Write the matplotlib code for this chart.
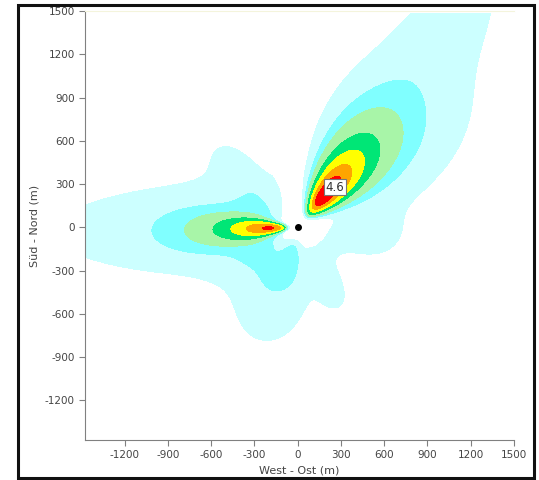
import numpy
import matplotlib
matplotlib.use('Agg')
from matplotlib import pyplot as plt
from matplotlib.patches import Rectangle

matplotlib.rcParams['font.family'] = 'DejaVu Sans'
matplotlib.rcParams['axes.unicode_minus'] = False

# Konzentrationsstufen und Farben
levels = [0.05, 0.15, 0.3, 0.7, 1.3, 2.2, 3.3, 100]
colors = ['#ccffff', '#80ffff', '#a8f5a8', '#00e676', '#ffff00', '#ffa500', '#ff0000']

# Fahnen: Richtung (Grad), Abstand Maximum (m), Maximum, log-Breite innen/aussen,
# Winkelbreite (Grad), Verengung hinter dem Maximum (0 = Keil, 1 = konstante Breite)
#             NE    NE-h   NE-f   W      W-f    W-n    S      SW     SO-n   SO     O      NW
lobe_angle = [50,   45,    54,    181.5, 181,   185,   -103,  -120,  -40,   -62,   -5,    135]
lobe_dist = [290,   550,   1800,  195,   400,   280,   200,   500,   250,   420,   480,   600]
lobe_peak = [4.6,   0.175, 0.045, 3.33,  0.138, 0.15,  0.18,  0.04,  0.06,  0.08,  0.08,  0.06]
lobe_s_in = [0.44,  0.7,   0.3,   0.55,  0.6,   0.5,   0.6,   0.4,   0.45,  0.5,   0.5,   0.3]
lobe_s_out = [0.51, 0.6,   0.3,   0.58,  1.0,   0.4,   0.8,   0.4,   0.4,   0.35,  0.35,  0.3]
lobe_spread = [10,  20,    7,     7,     37,    36,    17,    14,    25,    9,     14,    9]
lobe_narrow = [0,   0,     0,     0,     1,     0,     0,     0,     0,     0,     0,     0]

hole_radius = 90
peak_label = '4.6'

grid_x = [-1475, 1485]
grid_y = [-1475, 1485]

xticks = [-1200, -900, -600, -300, 0, 300, 600, 900, 1200, 1500]
yticks = [-1200, -900, -600, -300, 0, 300, 600, 900, 1200, 1500]

x = numpy.linspace(grid_x[0], grid_x[1], 700)
y = numpy.linspace(grid_y[0], grid_y[1], 700)
X, Y = numpy.meshgrid(x, y)
R = numpy.hypot(X, Y) + 1e-6
PHI = numpy.degrees(numpy.arctan2(Y, X))

C = numpy.zeros_like(X)
for ang, rp, pk, si, so, sp, nw in zip(lobe_angle, lobe_dist, lobe_peak, lobe_s_in,
                                       lobe_s_out, lobe_spread, lobe_narrow):
    d = (PHI - ang + 180) % 360 - 180
    s = numpy.where(R < rp, si, so)
    radial = numpy.exp(-numpy.log(R / rp) ** 2 / (2 * s ** 2))
    width = sp * (rp / numpy.maximum(R, rp)) ** nw
    angular = numpy.exp(-0.5 * (d / width) ** 2)
    C += pk * radial * angular
C *= 1 - numpy.exp(-(R / hole_radius) ** 4)

fig = plt.figure(figsize=(5.39, 4.80), dpi=100)
ax = fig.add_axes([85 / 539, 1 - 440 / 480, 429 / 539, 429 / 480])

ax.contourf(X, Y, C, levels=levels, colors=colors)
ax.plot(0, 0, 'o', color='black', markersize=4)

i = numpy.unravel_index(numpy.argmax(C), C.shape)
ax.annotate(peak_label, xy=(X[i], Y[i]), xytext=(10, 8), textcoords='offset pixels',
            ha='center', va='center', fontsize=8.5, color='#333333',
            bbox=dict(boxstyle='square,pad=0.15', fc='white', ec='#777777', lw=0.8),
            arrowprops=dict(arrowstyle='-', color='#777777', lw=0.8, shrinkA=0, shrinkB=0))

ax.set_xlim(-1475, 1500)
ax.set_ylim(-1475, 1500)
ax.set_xticks(xticks)
ax.set_yticks(yticks)
ax.tick_params(colors='#808080', labelcolor='#444444', labelsize=7.5, length=4, width=0.8)
for side in ['left', 'bottom']:
    ax.spines[side].set_color('#808080')
ax.spines['right'].set_visible(False)
ax.spines['top'].set_color('#f4f4dc')
ax.set_xlabel('West - Ost (m)', fontsize=8, color='#444444', labelpad=4)
ax.set_ylabel('Süd - Nord (m)', fontsize=8, color='#444444', labelpad=4)

fig.patches.append(Rectangle((18 / 539, 2 / 480), 516 / 539, 473 / 480,
                             transform=fig.transFigure, fill=False,
                             ec='#111111', lw=2.2))

fig.savefig('out.png', dpi=100)
